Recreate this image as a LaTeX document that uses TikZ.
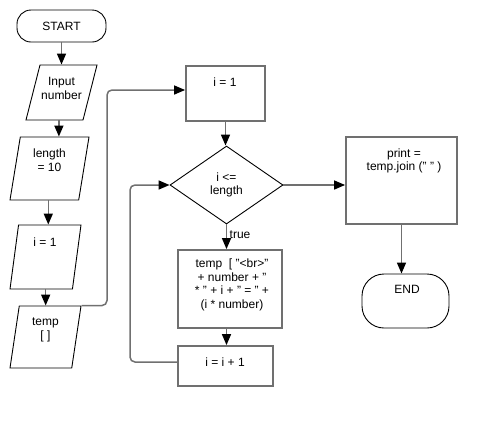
\documentclass[tikz,border=0pt]{standalone}
\usepackage{fontspec}
\setmainfont{Liberation Sans}
\usetikzlibrary{shapes.geometric, arrows.meta}
\definecolor{linegray}{HTML}{707070}

\begin{document}
\begin{tikzpicture}[x=1pt, y=-1pt,
    every node/.style={font=\fontsize{12}{13.5}\selectfont, align=center, inner sep=0pt},
    term/.style={draw=black, line width=0.9pt, rectangle},
    io/.style={draw=black, line width=0.9pt, trapezium, trapezium stretches=true, inner sep=3pt},
    proc/.style={draw=linegray, line width=1.8pt, rectangle},
    decision/.style={draw=black, line width=0.9pt, diamond},
    flow/.style={draw=linegray, line width=1.5pt, -{Triangle[length=11pt, width=9pt, color=black]}}
]
    % Page size
    \useasboundingbox (0,0) rectangle (497,426);

    % Left column
    \node[term, rounded corners=14pt, minimum width=89, minimum height=32] (start) at (61.5,26) {START};
    \node[io, trapezium left angle=72, trapezium right angle=108, minimum width=71, minimum height=55] (input) at (61.5,92.5) {};
    \node[io, trapezium left angle=80, trapezium right angle=100, minimum width=79, minimum height=63] (length) at (49.5,168.5) {};
    \node[io, trapezium left angle=81, trapezium right angle=99, minimum width=71, minimum height=64] (setone) at (45.5,257) {};
    \node[io, trapezium left angle=80, trapezium right angle=100, minimum width=71, minimum height=62] (empty) at (45.5,337) {};

    % Loop column
    \node[proc, minimum width=79, minimum height=55] (init) at (225.5,93.5) {};
    \node[decision, minimum width=113, minimum height=78] (cond) at (226.5,185) {i <=\\length};
    \node[proc, minimum width=104, minimum height=78] (push) at (230,289) {};
    \node[proc, minimum width=95, minimum height=40] (incr) at (225.5,366) {};

    % Right column
    \node[proc, minimum width=111, minimum height=87] (output) at (401.5,180.5) {};
    \node[term, rounded corners=22pt, minimum width=87, minimum height=54] (stop) at (405.5,301) {};

    % Labels
    \node (input-t) at (61.5,88.5) {Input\\number};
    \node (length-t) at (49.5,160) {length\\= 10};
    \node (setone-t) at (45,242) {i = 1};
    \node (empty-t) at (45.5,330) {temp\\{[ ]}};
    \node (init-t) at (225,82) {i = 1};
    \node (push-t) at (232,285) {temp\ \ [ "<br>"\\+ number + "\\* " + i + " = " +\\(i * number)};
    \node (incr-t) at (225,362) {i = i + 1};
    \node (output-t) at (404,161) {print =\\temp.join (" " )};
    \node (stop-t) at (407,289) {END};
    \node[anchor=west] (true-t) at (229.5,235) {true};

    % Connectors
    \draw[flow] (start.south) -- (start.south |- input.north);
    \draw[flow] ([xshift=4.5pt]input.bottom side) coordinate (a1) -- (a1 |- length.north);
    \draw[flow] ([xshift=4pt]length.bottom side) coordinate (a2) -- (a2 |- setone.north);
    \draw[flow] ([xshift=4.5pt]setone.bottom side) coordinate (a3) -- (a3 |- empty.north);

    \coordinate (feed) at (107,200);
    \coordinate (init-in) at ([yshift=3.5pt]init.west);
    \draw[flow, rounded corners=5pt] (empty.top right corner) -- (empty.top right corner -| feed)
        -- (feed |- init-in) -- (init-in);

    \draw[flow] (init.south) -- (init.south |- cond.north);
    \draw[flow] (cond.south) -- (cond.south |- push.north);
    \draw[flow] (cond.south |- push.south) -- (cond.south |- incr.north);

    \coordinate (back) at (130,300);
    \coordinate (incr-out) at ([yshift=4pt]incr.west);
    \draw[flow, rounded corners=5pt] (incr-out) -- (incr-out -| back) -- (back |- cond.west) -- (cond.west);

    \draw[flow] (cond.east) -- (cond.east -| output.west);
    \draw[flow] (output.south) -- (output.south |- stop.north);
\end{tikzpicture}
\end{document}
